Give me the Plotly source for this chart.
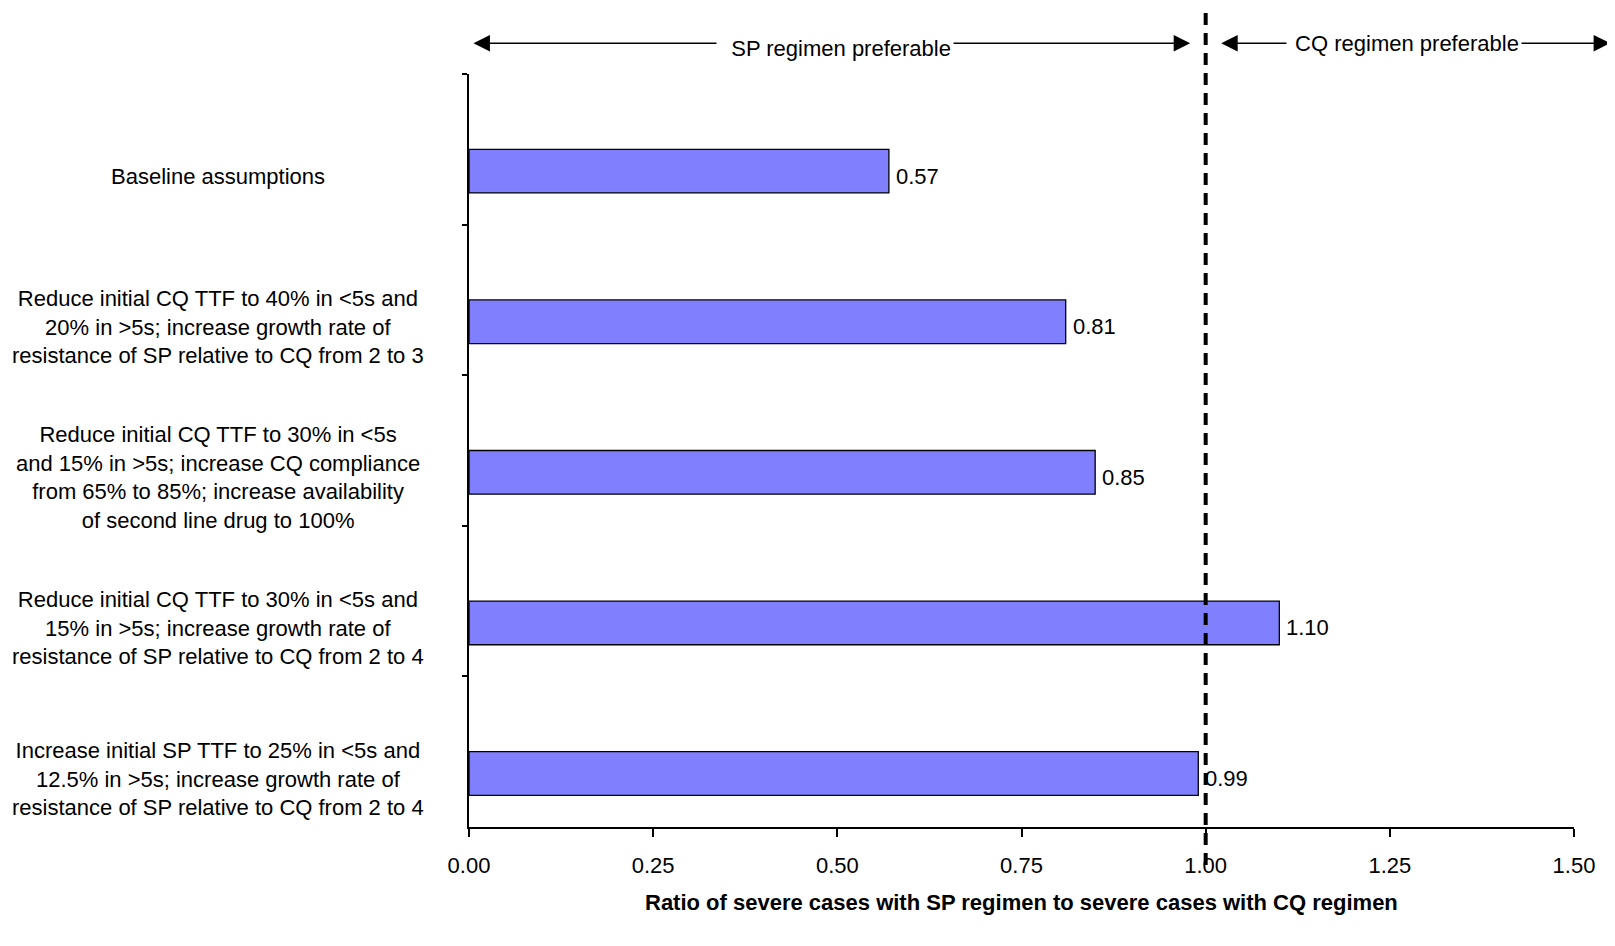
import plotly.graph_objects as go

scenarios = [
    "Baseline assumptions",
    "Reduce initial CQ TTF to 40% in <5s and<br>20% in >5s; increase growth rate of<br>resistance of SP relative to CQ from 2 to 3",
    "Reduce initial CQ TTF to 30% in <5s<br>and 15% in >5s; increase CQ compliance<br>from 65% to 85%; increase availability<br>of second line drug to 100%",
    "Reduce initial CQ TTF to 30% in <5s and<br>15% in >5s; increase growth rate of<br>resistance of SP relative to CQ from 2 to 4",
    "Increase initial SP TTF to 25% in <5s and<br>12.5% in >5s; increase growth rate of<br>resistance of SP relative to CQ from 2 to 4",
]
ratios = [0.57, 0.81, 0.85, 1.10, 0.99]
x_ticks = [0.00, 0.25, 0.50, 0.75, 1.00, 1.25, 1.50]
x_tick_labels = ["0.00", "0.25", "0.50", "0.75", "1.00", "1.25", "1.50"]
threshold = 1.0
x_title = "Ratio of severe cases with SP regimen to severe cases with CQ regimen"
sp_text = "SP regimen preferable"
cq_text = "CQ regimen preferable"

FONT = "Liberation Sans, Arial, sans-serif"
BAR_W = 0.29

fig = go.Figure()
fig.add_trace(go.Bar(
    x=ratios, y=scenarios, orientation="h",
    offset=0, width=BAR_W,
    marker=dict(color="#8080FF", line=dict(color="black", width=1.3)),
    hoverinfo="skip",
))

annotations = []
for i, lab in enumerate(scenarios):
    annotations.append(dict(
        text=lab, xref="paper", yref="y", x=-0.2275, y=i + BAR_W / 2,
        xanchor="center", yanchor="middle", align="center", showarrow=False,
        yshift=-5, font=dict(family=FONT, size=22, color="black"),
    ))
# value labels
for i, v in enumerate(ratios):
    annotations.append(dict(
        text=f"{v:.2f}", xref="x", yref="y", x=v, y=i + BAR_W / 2,
        xanchor="left", yanchor="middle", showarrow=False,
        xshift=5, yshift=-5, font=dict(family=FONT, size=22, color="black"),
    ))

# arrows
for x0, x1, ypos in [(0.004, 0.979, 1.041), (1.019, 1.549, 1.041)]:
    annotations.append(dict(
        text="", xref="x", yref="paper", x=x1, y=ypos,
        axref="x", ayref="pixel", ax=x0, ay=0,
        showarrow=True, arrowhead=2, arrowside="end+start",
        arrowwidth=1.5, arrowsize=2.2, arrowcolor="black",
        standoff=0, startstandoff=0,
    ))
annotations.append(dict(
    text="\u00a0\u00a0" + sp_text, xref="x", yref="paper", x=0.658, y=1.0345,
    xanchor="right", yanchor="middle", showarrow=False, bgcolor="white",
    borderpad=2, font=dict(family=FONT, size=22, color="black"),
))
annotations.append(dict(
    text="\u00a0" + cq_text, xref="x", yref="paper", x=1.430, y=1.040,
    xanchor="right", yanchor="middle", showarrow=False, bgcolor="white",
    borderpad=2, font=dict(family=FONT, size=22, color="black"),
))
annotations.append(dict(
    text="<b>" + x_title + "</b>", xref="paper", yref="paper", x=0.5, y=-0.1,
    xanchor="center", yanchor="middle", showarrow=False,
    font=dict(family=FONT, size=22, color="black"),
))

fig.update_layout(
    width=1607, height=938,
    margin=dict(l=461, r=41, t=66, b=119),
    paper_bgcolor="white", plot_bgcolor="white",
    showlegend=False,
    annotations=annotations,
    shapes=[dict(
        type="line", xref="x", yref="paper", x0=threshold, x1=threshold,
        y0=-0.0505, y1=1.09, layer="above",
        line=dict(color="black", width=4, dash="12px,8px"),
    )],
    xaxis=dict(
        range=[0, 1.5], tickmode="array", tickvals=x_ticks, ticktext=x_tick_labels,
        showgrid=False, zeroline=False, showline=True, linecolor="black", linewidth=1.5,
        ticks="outside", ticklen=8, tickwidth=1.5, tickcolor="black",
        ticklabelstandoff=10,
        tickfont=dict(family=FONT, size=22, color="black"),
    ),
    yaxis=dict(
        type="category", range=[4.5, -0.5], showticklabels=False,
        showgrid=False, zeroline=False, showline=True, linecolor="black", linewidth=1.5,
        ticks="outside", tickson="boundaries", ticklen=5, tickwidth=1.5, tickcolor="black",
    ),
)

fig.write_html("out.html")
